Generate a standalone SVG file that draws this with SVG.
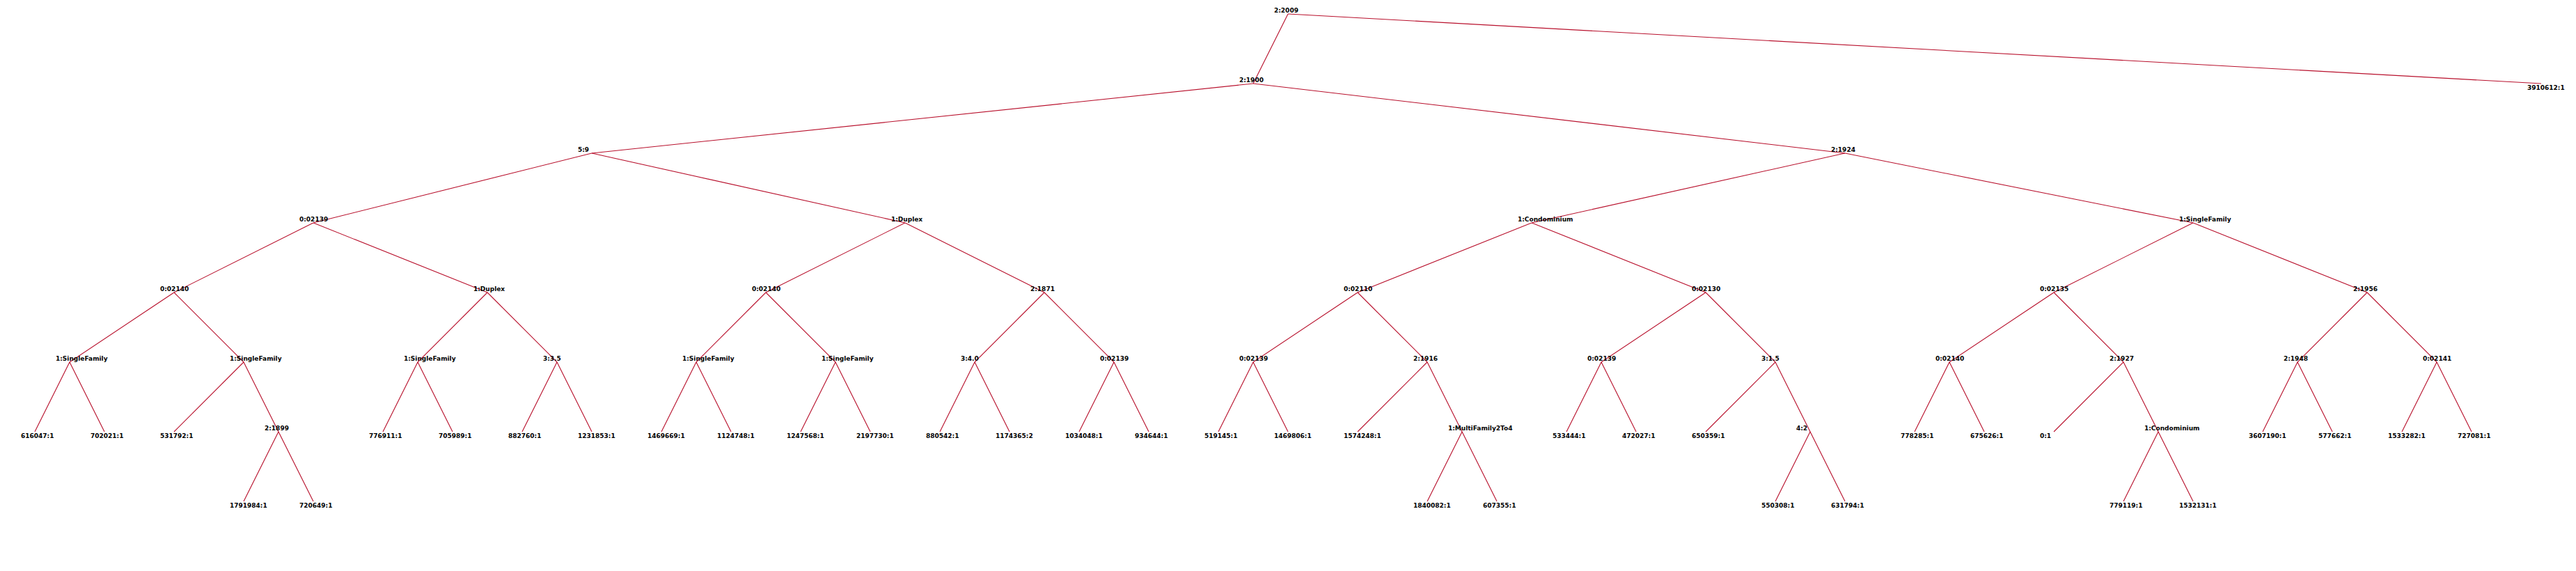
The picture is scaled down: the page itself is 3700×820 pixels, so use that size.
<svg xmlns="http://www.w3.org/2000/svg" width="3700" height="820" viewBox="0 0 3700 820">
<style>
.bg{fill:#ffffff}
.e line{stroke:#b8102c;stroke-width:1.1;fill:none}
text{font-family:"DejaVu Sans","Verdana",sans-serif;font-weight:bold;font-size:9px;fill:#000000}
</style>
<rect class="bg" x="0" y="0" width="3700" height="820"/>
<g id="connectors" class="e">
<line x1="1850" y1="20" x2="1800" y2="120"/>
<line x1="1850" y1="20" x2="3650" y2="120"/>
<line x1="1800" y1="120" x2="850" y2="220"/>
<line x1="1800" y1="120" x2="2650" y2="220"/>
<line x1="850" y1="220" x2="450" y2="320"/>
<line x1="850" y1="220" x2="1300" y2="320"/>
<line x1="2650" y1="220" x2="2200" y2="320"/>
<line x1="2650" y1="220" x2="3150" y2="320"/>
<line x1="450" y1="320" x2="250" y2="420"/>
<line x1="450" y1="320" x2="700" y2="420"/>
<line x1="1300" y1="320" x2="1100" y2="420"/>
<line x1="1300" y1="320" x2="1500" y2="420"/>
<line x1="2200" y1="320" x2="1950" y2="420"/>
<line x1="2200" y1="320" x2="2450" y2="420"/>
<line x1="3150" y1="320" x2="2950" y2="420"/>
<line x1="3150" y1="320" x2="3400" y2="420"/>
<line x1="250" y1="420" x2="100" y2="520"/>
<line x1="250" y1="420" x2="350" y2="520"/>
<line x1="700" y1="420" x2="600" y2="520"/>
<line x1="700" y1="420" x2="800" y2="520"/>
<line x1="1100" y1="420" x2="1000" y2="520"/>
<line x1="1100" y1="420" x2="1200" y2="520"/>
<line x1="1500" y1="420" x2="1400" y2="520"/>
<line x1="1500" y1="420" x2="1600" y2="520"/>
<line x1="1950" y1="420" x2="1800" y2="520"/>
<line x1="1950" y1="420" x2="2050" y2="520"/>
<line x1="2450" y1="420" x2="2300" y2="520"/>
<line x1="2450" y1="420" x2="2550" y2="520"/>
<line x1="2950" y1="420" x2="2800" y2="520"/>
<line x1="2950" y1="420" x2="3050" y2="520"/>
<line x1="3400" y1="420" x2="3300" y2="520"/>
<line x1="3400" y1="420" x2="3500" y2="520"/>
<line x1="100" y1="520" x2="50" y2="620"/>
<line x1="100" y1="520" x2="150" y2="620"/>
<line x1="350" y1="520" x2="250" y2="620"/>
<line x1="350" y1="520" x2="400" y2="620"/>
<line x1="600" y1="520" x2="550" y2="620"/>
<line x1="600" y1="520" x2="650" y2="620"/>
<line x1="800" y1="520" x2="750" y2="620"/>
<line x1="800" y1="520" x2="850" y2="620"/>
<line x1="1000" y1="520" x2="950" y2="620"/>
<line x1="1000" y1="520" x2="1050" y2="620"/>
<line x1="1200" y1="520" x2="1150" y2="620"/>
<line x1="1200" y1="520" x2="1250" y2="620"/>
<line x1="1400" y1="520" x2="1350" y2="620"/>
<line x1="1400" y1="520" x2="1450" y2="620"/>
<line x1="1600" y1="520" x2="1550" y2="620"/>
<line x1="1600" y1="520" x2="1650" y2="620"/>
<line x1="1800" y1="520" x2="1750" y2="620"/>
<line x1="1800" y1="520" x2="1850" y2="620"/>
<line x1="2050" y1="520" x2="1950" y2="620"/>
<line x1="2050" y1="520" x2="2100" y2="620"/>
<line x1="2300" y1="520" x2="2250" y2="620"/>
<line x1="2300" y1="520" x2="2350" y2="620"/>
<line x1="2550" y1="520" x2="2450" y2="620"/>
<line x1="2550" y1="520" x2="2600" y2="620"/>
<line x1="2800" y1="520" x2="2750" y2="620"/>
<line x1="2800" y1="520" x2="2850" y2="620"/>
<line x1="3050" y1="520" x2="2950" y2="620"/>
<line x1="3050" y1="520" x2="3100" y2="620"/>
<line x1="3300" y1="520" x2="3250" y2="620"/>
<line x1="3300" y1="520" x2="3350" y2="620"/>
<line x1="3500" y1="520" x2="3450" y2="620"/>
<line x1="3500" y1="520" x2="3550" y2="620"/>
<line x1="400" y1="620" x2="350" y2="720"/>
<line x1="400" y1="620" x2="450" y2="720"/>
<line x1="2100" y1="620" x2="2050" y2="720"/>
<line x1="2100" y1="620" x2="2150" y2="720"/>
<line x1="2600" y1="620" x2="2550" y2="720"/>
<line x1="2600" y1="620" x2="2650" y2="720"/>
<line x1="3100" y1="620" x2="3050" y2="720"/>
<line x1="3100" y1="620" x2="3150" y2="720"/>
</g>
<g id="n_root"><text x="1830" y="18">2:2009</text></g>
<g id="n_1900"><text x="1780" y="118">2:1900</text></g>
<g id="leaf_3910612"><text x="3630" y="129">3910612:1</text></g>
<g id="n_5_9"><text x="830" y="218">5:9</text></g>
<g id="n_1924"><text x="2630" y="218">2:1924</text></g>
<g id="n_02139_a"><text x="430" y="318">0:02139</text></g>
<g id="n_duplex_a"><text x="1280" y="318">1:Duplex</text></g>
<g id="n_condo_a"><text x="2180" y="318">1:Condominium</text></g>
<g id="n_single_a"><text x="3130" y="318">1:SingleFamily</text></g>
<g id="n_02140_a"><text x="230" y="418">0:02140</text></g>
<g id="n_duplex_b"><text x="680" y="418">1:Duplex</text></g>
<g id="n_02140_b"><text x="1080" y="418">0:02140</text></g>
<g id="n_1871"><text x="1480" y="418">2:1871</text></g>
<g id="n_02110"><text x="1930" y="418">0:02110</text></g>
<g id="n_02130"><text x="2430" y="418">0:02130</text></g>
<g id="n_02135"><text x="2930" y="418">0:02135</text></g>
<g id="n_1956"><text x="3380" y="418">2:1956</text></g>
<g id="n_single_b"><text x="80" y="518">1:SingleFamily</text></g>
<g id="n_single_c"><text x="330" y="518">1:SingleFamily</text></g>
<g id="n_single_d"><text x="580" y="518">1:SingleFamily</text></g>
<g id="n_3_3_5"><text x="780" y="518">3:3.5</text></g>
<g id="n_single_e"><text x="980" y="518">1:SingleFamily</text></g>
<g id="n_single_f"><text x="1180" y="518">1:SingleFamily</text></g>
<g id="n_3_4_0"><text x="1380" y="518">3:4.0</text></g>
<g id="n_02139_b"><text x="1580" y="518">0:02139</text></g>
<g id="n_02139_c"><text x="1780" y="518">0:02139</text></g>
<g id="n_1916"><text x="2030" y="518">2:1916</text></g>
<g id="n_02139_d"><text x="2280" y="518">0:02139</text></g>
<g id="n_3_1_5"><text x="2530" y="518">3:1.5</text></g>
<g id="n_02140_c"><text x="2780" y="518">0:02140</text></g>
<g id="n_1927"><text x="3030" y="518">2:1927</text></g>
<g id="n_1948"><text x="3280" y="518">2:1948</text></g>
<g id="n_02141"><text x="3480" y="518">0:02141</text></g>
<g id="n_1899"><text x="380" y="618">2:1899</text></g>
<g id="n_multi"><text x="2080" y="618">1:MultiFamily2To4</text></g>
<g id="n_4_2"><text x="2580" y="618">4:2</text></g>
<g id="n_condo_b"><text x="3080" y="618">1:Condominium</text></g>
<g id="leaf_616047"><text x="30" y="629">616047:1</text></g>
<g id="leaf_702021"><text x="130" y="629">702021:1</text></g>
<g id="leaf_531792"><text x="230" y="629">531792:1</text></g>
<g id="leaf_776911"><text x="530" y="629">776911:1</text></g>
<g id="leaf_705989"><text x="630" y="629">705989:1</text></g>
<g id="leaf_882760"><text x="730" y="629">882760:1</text></g>
<g id="leaf_1231853"><text x="830" y="629">1231853:1</text></g>
<g id="leaf_1469669"><text x="930" y="629">1469669:1</text></g>
<g id="leaf_1124748"><text x="1030" y="629">1124748:1</text></g>
<g id="leaf_1247568"><text x="1130" y="629">1247568:1</text></g>
<g id="leaf_2197730"><text x="1230" y="629">2197730:1</text></g>
<g id="leaf_880542"><text x="1330" y="629">880542:1</text></g>
<g id="leaf_1174365"><text x="1430" y="629">1174365:2</text></g>
<g id="leaf_1034048"><text x="1530" y="629">1034048:1</text></g>
<g id="leaf_934644"><text x="1630" y="629">934644:1</text></g>
<g id="leaf_519145"><text x="1730" y="629">519145:1</text></g>
<g id="leaf_1469806"><text x="1830" y="629">1469806:1</text></g>
<g id="leaf_1574248"><text x="1930" y="629">1574248:1</text></g>
<g id="leaf_533444"><text x="2230" y="629">533444:1</text></g>
<g id="leaf_472027"><text x="2330" y="629">472027:1</text></g>
<g id="leaf_650359"><text x="2430" y="629">650359:1</text></g>
<g id="leaf_778285"><text x="2730" y="629">778285:1</text></g>
<g id="leaf_675626"><text x="2830" y="629">675626:1</text></g>
<g id="leaf_0_1"><text x="2930" y="629">0:1</text></g>
<g id="leaf_3607190"><text x="3230" y="629">3607190:1</text></g>
<g id="leaf_577662"><text x="3330" y="629">577662:1</text></g>
<g id="leaf_1533282"><text x="3430" y="629">1533282:1</text></g>
<g id="leaf_727081"><text x="3530" y="629">727081:1</text></g>
<g id="leaf_1791984"><text x="330" y="729">1791984:1</text></g>
<g id="leaf_720649"><text x="430" y="729">720649:1</text></g>
<g id="leaf_1840082"><text x="2030" y="729">1840082:1</text></g>
<g id="leaf_607355"><text x="2130" y="729">607355:1</text></g>
<g id="leaf_550308"><text x="2530" y="729">550308:1</text></g>
<g id="leaf_631794"><text x="2630" y="729">631794:1</text></g>
<g id="leaf_779119"><text x="3030" y="729">779119:1</text></g>
<g id="leaf_1532131"><text x="3130" y="729">1532131:1</text></g>
</svg>
